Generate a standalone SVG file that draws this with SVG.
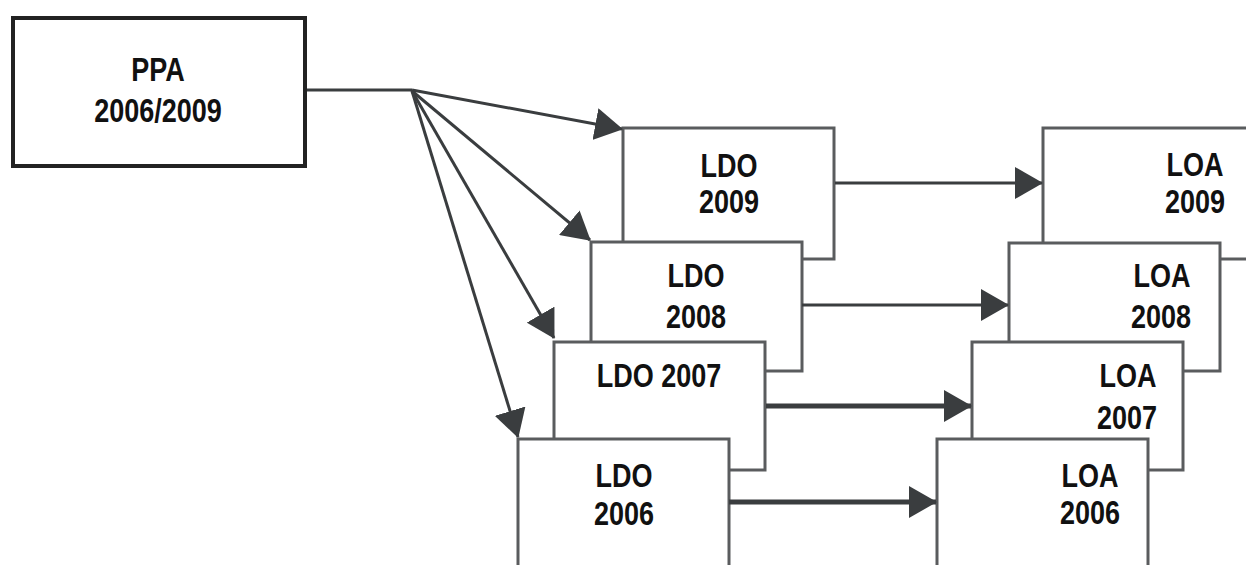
<svg xmlns="http://www.w3.org/2000/svg" width="1246" height="565" viewBox="0 0 1246 565">
<style>
.bg{fill:#ffffff}
.box{fill:#ffffff;stroke:#5a5c5e;stroke-width:3}
.ppa{fill:#ffffff;stroke:#222222;stroke-width:4}
.t{font-family:"Liberation Sans",Arial,sans-serif;font-weight:bold;font-size:27px;fill:#111111;text-anchor:middle}
.ln{fill:none;stroke:#3a3d3f;stroke-width:3}
.thick{stroke-width:5}
</style>
<defs>
<marker id="ah" markerUnits="userSpaceOnUse" viewBox="0 0 28 32" refX="27" refY="16" markerWidth="28" markerHeight="32" orient="auto">
<path d="M0,0 L28,16 L0,32 Z" fill="#3a3d3f"/>
</marker>
</defs>
<rect class="bg" x="0" y="0" width="1246" height="565"/>
<g id="ppa">
<rect class="ppa" x="13" y="18" width="292" height="148"/>
<text class="t" transform="translate(158,81) scale(1,1.25)">PPA</text>
<text class="t" transform="translate(158,122) scale(1,1.25)">2006/2009</text>
</g>
<g id="ldo2009">
<rect class="box" x="623" y="128" width="211" height="131"/>
<text class="t" transform="translate(729,177) scale(1,1.25)">LDO</text>
<text class="t" transform="translate(729,213) scale(1,1.25)">2009</text>
</g>
<g id="ldo2008">
<rect class="box" x="591" y="242" width="211" height="129"/>
<text class="t" transform="translate(696,287) scale(1,1.25)">LDO</text>
<text class="t" transform="translate(696,328) scale(1,1.25)">2008</text>
</g>
<g id="ldo2007">
<rect class="box" x="554" y="342" width="211" height="128"/>
<text class="t" transform="translate(659,387) scale(1,1.25)">LDO 2007</text>
</g>
<g id="ldo2006">
<rect class="box" x="518" y="439" width="211" height="140"/>
<text class="t" transform="translate(624,487) scale(1,1.25)">LDO</text>
<text class="t" transform="translate(624,525) scale(1,1.25)">2006</text>
</g>
<g id="loa2009">
<rect class="box" x="1043" y="128" width="212" height="131"/>
<text class="t" transform="translate(1195,176) scale(1,1.25)">LOA</text>
<text class="t" transform="translate(1195,213) scale(1,1.25)">2009</text>
</g>
<g id="loa2008">
<rect class="box" x="1009" y="243" width="211" height="128"/>
<text class="t" transform="translate(1162,287) scale(1,1.25)">LOA</text>
<text class="t" transform="translate(1161,328) scale(1,1.25)">2008</text>
</g>
<g id="loa2007">
<rect class="box" x="972" y="342" width="211" height="128"/>
<text class="t" transform="translate(1128,387) scale(1,1.25)">LOA</text>
<text class="t" transform="translate(1127,429) scale(1,1.25)">2007</text>
</g>
<g id="loa2006">
<rect class="box" x="937" y="439" width="211" height="140"/>
<text class="t" transform="translate(1090,487) scale(1,1.25)">LOA</text>
<text class="t" transform="translate(1090,524) scale(1,1.25)">2006</text>
</g>
<g id="connectors">
<path class="ln" d="M307,90 H412"/>
<path class="ln" d="M412,90 L622,129" marker-end="url(#ah)"/>
<path class="ln" d="M412,91 L590,240" marker-end="url(#ah)"/>
<path class="ln" d="M412,91 L554,338" marker-end="url(#ah)"/>
<path class="ln" d="M412,91 L518,437" marker-end="url(#ah)"/>
<path class="ln" d="M835,183 H1042" marker-end="url(#ah)"/>
<path class="ln" d="M802,305 H1008" marker-end="url(#ah)"/>
<path class="ln thick" d="M766,406 H971" marker-end="url(#ah)"/>
<path class="ln thick" d="M729,502 H936" marker-end="url(#ah)"/>
</g>
</svg>
